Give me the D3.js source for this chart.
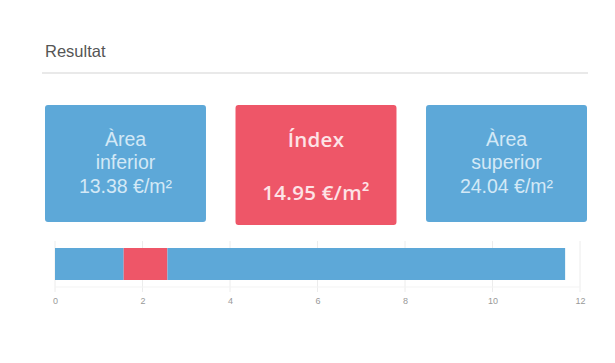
<!DOCTYPE html>
<html>
<head>
<meta charset="utf-8">
<script src="https://cdn.jsdelivr.net/npm/d3@7/dist/d3.min.js"></script>
<style>
  html, body { margin: 0; padding: 0; background: #fff; }
  svg { display: block; }
</style>
</head>
<body>
<svg id="chart" width="615" height="363"></svg>
<script>
// Price figures shown in the three summary cards (€/m²)
const cardTitles = [["Àrea", "inferior"], ["Índex"], ["Àrea", "superior"]];
const cardValues = [13.38, 14.95, 24.04];
const cardKinds = ["area", "index", "area"];

// Stacked range bar: lower area → index band → upper area
const segmentNames = ["inferior", "índex", "superior"];
const segmentValues = [1.57, 1.0, 9.09];
const segmentKinds = ["area", "index", "area"];

// Axis tick labels
const tickValues = [0, 2, 4, 6, 8, 10, 12];

const colors = { area: "#5da8d8", index: "#ee5668" };
const textColors = { area: "#d3e8f6", index: "#fde3e6" };

const svg = d3.select("#chart");

// Section heading and divider
svg.append("text")
  .attr("x", 45).attr("y", 57)
  .attr("font-family", "Liberation Sans, Arial, sans-serif")
  .attr("font-size", 16.5)
  .attr("fill", "#555")
  .text("Resultat");

svg.append("line")
  .attr("x1", 42).attr("x2", 588)
  .attr("y1", 73).attr("y2", 73)
  .attr("stroke", "#e9e9e9").attr("stroke-width", 2);

// Summary cards
const cardX = d3.scaleBand().domain(d3.range(3)).range([45, 587]).paddingInner(0.155);
const fmt = d3.format(".2f");

const cards = svg.selectAll("g.card").data(cardValues).join("g")
  .attr("class", "card")
  .attr("transform", (d, i) => `translate(${cardX(i)},105)`);

cards.append("rect")
  .attr("width", cardX.bandwidth())
  .attr("height", (d, i) => cardKinds[i] === "index" ? 120 : 117)
  .attr("rx", 3)
  .attr("fill", (d, i) => colors[cardKinds[i]]);

cards.each(function (d, i) {
  const g = d3.select(this);
  const cx = cardX.bandwidth() / 2;
  const kind = cardKinds[i];
  if (kind === "index") {
    const t = g.append("g")
      .attr("font-family", "Open Sans, sans-serif")
      .attr("font-weight", 600)
      .attr("font-size", 20.5)
      .attr("letter-spacing", 0.3)
      .attr("fill", textColors[kind])
      .attr("text-anchor", "middle");
    t.append("text").attr("x", cx).attr("y", 42).text(cardTitles[i][0]);
    t.append("text").attr("x", cx).attr("y", 95).text(fmt(d) + " €/m²");
  } else {
    const t = g.append("g")
      .attr("font-family", "Liberation Sans, Arial, sans-serif")
      .attr("font-size", 19.5)
      .attr("fill", textColors[kind])
      .attr("text-anchor", "middle");
    cardTitles[i].forEach((line, k) => {
      t.append("text").attr("x", cx).attr("y", 41 + k * 23).text(line);
    });
    t.append("text").attr("x", cx).attr("y", 88).text(fmt(d) + " €/m²");
  }
});

// Range bar
const x = d3.scaleLinear().domain([0, 12]).range([55, 580]);
const yTop = 248, yBot = 280;

// Vertical grid lines
svg.append("g").selectAll("line").data(tickValues).join("line")
  .attr("x1", d => x(d)).attr("x2", d => x(d))
  .attr("y1", 241).attr("y2", 292)
  .attr("stroke", "#ececec").attr("stroke-width", 1);

svg.append("line")
  .attr("x1", x(0)).attr("x2", x(12))
  .attr("y1", 287).attr("y2", 287)
  .attr("stroke", "#f3f3f3").attr("stroke-width", 1);

const starts = d3.cumsum([0, ...segmentValues]);
svg.append("g").selectAll("rect").data(segmentValues).join("rect")
  .attr("x", (d, i) => x(starts[i]))
  .attr("width", (d, i) => x(starts[i] + d) - x(starts[i]))
  .attr("y", yTop).attr("height", yBot - yTop)
  .attr("fill", (d, i) => colors[segmentKinds[i]]);

// Tick labels
const axis = d3.axisBottom(x).tickValues(tickValues).tickSize(0).tickPadding(0);
const ax = svg.append("g").attr("transform", "translate(0,298)").call(axis);
ax.select(".domain").remove();
ax.selectAll("text")
  .attr("font-family", "Liberation Sans, Arial, sans-serif")
  .attr("font-size", 9)
  .attr("fill", "#999");
</script>
</body>
</html>
